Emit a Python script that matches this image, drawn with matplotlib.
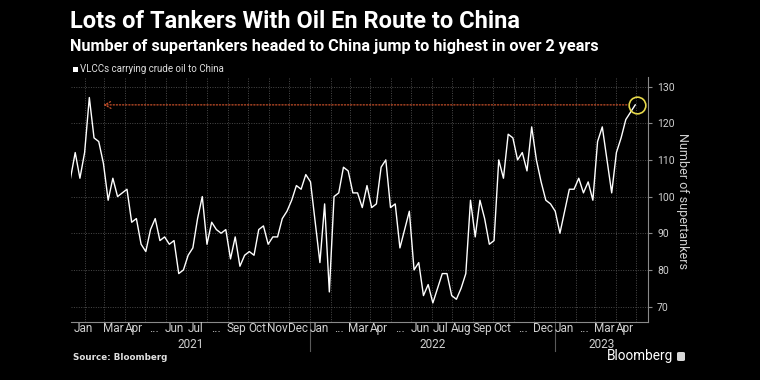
import matplotlib
matplotlib.use("Agg")
import matplotlib.pyplot as plt
from matplotlib.patches import Rectangle, FancyBboxPatch
import pandas as pd

# weekly count of VLCCs carrying crude to China
vlcc_counts = [105, 112, 105, 112, 127, 116, 115, 109, 99, 105,
               100, 101, 102, 93, 94, 87, 85, 91, 94, 88,
               89, 87, 88, 79, 80, 84, 86, 94, 100, 87,
               93, 91, 90, 91, 83, 89, 81, 84, 85, 84,
               91, 92, 87, 89, 89, 94, 96, 99, 103, 102,
               106, 104, 93, 82, 98, 74, 100, 101, 108, 107,
               101, 101, 97, 103, 97, 98, 108, 110, 97, 98,
               86, 91, 96, 80, 82, 73, 76, 71, 75, 79,
               79, 73, 72, 75, 79, 99, 89, 99, 94, 87,
               88, 110, 105, 117, 116, 110, 112, 107, 119, 110,
               104, 99, 98, 96, 90, 96, 102, 102, 105, 101,
               104, 99, 115, 119, 110, 101, 112, 116, 121, 123,
               125]
first_week = "2021-01-10"
week_dates = pd.date_range(first_week, periods=len(vlcc_counts), freq="7D")

month_labels = ["Jan", "", "Mar", "Apr", "...", "Jun", "Jul", "...", "Sep", "Oct", "Nov", "Dec",
                "Jan", "...", "Mar", "Apr", "...", "Jun", "Jul", "Aug", "Sep", "Oct", "...", "Dec",
                "Jan", "...", "Mar", "Apr"]
year_labels = ["2021", "2022", "2023"]
y_ticks = [70, 80, 90, 100, 110, 120, 130]

title = "Lots of Tankers With Oil En Route to China"
subtitle = "Number of supertankers headed to China jump to highest in over 2 years"
legend_label = "VLCCs carrying crude oil to China"

plt.rcParams["font.family"] = ["Roboto", "DejaVu Sans"]
W, H = 760, 380
fig = plt.figure(figsize=(W / 100, H / 100), dpi=100, facecolor="black")
ax_l, ax_r, ax_t, ax_b = 70.5, 648, 77, 322
ax = fig.add_axes([ax_l / W, 1 - ax_b / H, (ax_r - ax_l) / W, (ax_b - ax_t) / H])
ax.set_facecolor("black")

ax.plot(week_dates, vlcc_counts, color="white", lw=1.0, zorder=3)

x_left = week_dates[0]
x_right = week_dates[-1] + pd.Timedelta(days=19)
ax.set_xlim(x_left, x_right)
ax.set_ylim(65.8, 132.6)

# month gridlines
month_starts = pd.date_range("2021-01-01", "2023-06-01", freq="MS")
ax.set_xticks([m for m in month_starts if x_left < m < x_right])
ax.tick_params(axis="x", length=0, labelbottom=False)
ax.grid(True, color="#4a4a4a", linestyle=(0, (1, 1.5)), lw=0.7)

ax.yaxis.tick_right()
ax.set_yticks(y_ticks)
ax.tick_params(axis="y", colors="#8a8a8a", labelcolor="#d0d0d0", labelsize=7.5, length=3, width=0.8)
for s in ["top", "left"]:
    ax.spines[s].set_visible(False)
for s in ["bottom", "right"]:
    ax.spines[s].set_color("#8a8a8a")
    ax.spines[s].set_linewidth(0.8)

# month and year labels under the axis
trans = ax.get_xaxis_transform()
for k, lab in enumerate(month_labels):
    m0, m1 = month_starts[k], month_starts[k + 1]
    a, b = max(m0, x_left), min(m1, x_right)
    if not lab:
        continue
    if k == 0:
        ax.text(a + pd.Timedelta(days=5), -0.026, lab, transform=trans, ha="left", va="center",
                color="#d0d0d0", fontsize=8.5)
    else:
        ax.text(a + (b - a) / 2 - pd.Timedelta(days=2), -0.026, lab, transform=trans,
                ha="center", va="center", color="#d0d0d0", fontsize=8.5)

for k, yl in enumerate(year_labels):
    y0 = pd.Timestamp(f"{yl}-01-01")
    y1 = pd.Timestamp(f"{int(yl) + 1}-01-01")
    a, b = max(y0, x_left), min(y1, x_right)
    ax.text(a + (b - a) / 2, -0.092, yl, transform=trans, ha="center", va="center",
            color="#d0d0d0", fontsize=8.5)
    if y0 > x_left:
        ax.plot([y0, y0], [0, -0.12], transform=trans, color="#5a5a5a", lw=0.8, clip_on=False)

# highlight of latest reading, dotted arrow back to the last comparable level
ax.annotate("", xy=(week_dates[7], vlcc_counts[-1]), xytext=(week_dates[-1], vlcc_counts[-1]),
            arrowprops=dict(arrowstyle="->,head_length=0.45,head_width=0.25", color="#c8502a",
                            lw=0.9, linestyle=(0, (1, 1.5)), shrinkA=6, shrinkB=0), zorder=2)
ax.plot(week_dates[-1] + pd.Timedelta(days=3), vlcc_counts[-1], "o", ms=12, mfc="none",
        mec="#e6d84a", mew=1.2, zorder=4, clip_on=False)

fig.text(683 / W, 1 - 201 / H, "Number of supertankers", rotation=270, ha="center", va="center",
         color="#d0d0d0", fontsize=9)

# titles and legend
fig.text(70 / W, 1 - 21 / H, title, color="white", fontsize=17, fontweight="bold", va="center")
fig.text(70 / W, 1 - 46 / H, subtitle, color="white", fontsize=11.7, fontweight="bold", va="center")
fig.patches.append(Rectangle((73 / W, 1 - 72 / H), 5 / W, 5 / H, transform=fig.transFigure,
                             facecolor="white", edgecolor="none"))
fig.text(80 / W, 1 - 69.5 / H, legend_label, color="#e0e0e0", fontsize=7, va="center")

fig.text(73 / W, 1 - 358 / H, "Source: Bloomberg", color="#e0e0e0", fontsize=6.3,
         fontweight="bold", va="center", family="DejaVu Sans")
fig.text(673 / W, 1 - 356 / H, "Bloomberg", color="white", fontsize=9.8, ha="right", va="center")
fig.patches.append(FancyBboxPatch((677 / W, 1 - 361 / H), 8 / W, 9 / H, transform=fig.transFigure,
                                  boxstyle="round,pad=0,rounding_size=0.003",
                                  facecolor="#d8d8d8", edgecolor="none"))

fig.savefig("out.png", dpi=100, facecolor="black")
